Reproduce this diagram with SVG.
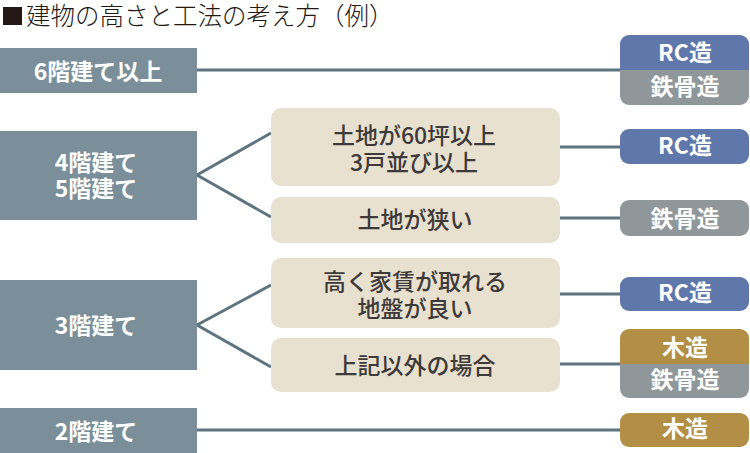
<svg xmlns="http://www.w3.org/2000/svg" width="750" height="453" viewBox="0 0 750 453">
<style>
text{font-family:"Noto Sans CJK JP","Noto Sans",sans-serif;text-anchor:middle}
.l{fill:#7A8F99}
.m{fill:#E8E1CF}
.w{fill:#fff;font-size:23px;font-weight:bold}
.d{fill:#3E3A39;font-size:23px;font-weight:500}
.c{stroke:#5E7580;stroke-width:3;fill:none}
.rc{fill:#6077AC}.st{fill:#8F979B}.wd{fill:#B38F45}
</style>
<rect width="750" height="453" fill="#fff"/>
<g id="title">
<rect x="3" y="7" width="19" height="18" fill="#231815"/>
<text x="26" y="25" style="text-anchor:start;font-size:24.5px;fill:#231815;font-weight:300">建物の高さと工法の考え方（例）</text>
</g>
<g id="connectors">
<line class="c" x1="197" y1="70" x2="622" y2="70"/>
<polyline class="c" points="271,133 197,175 271,217"/>
<line class="c" x1="559" y1="147" x2="622" y2="147"/>
<line class="c" x1="559" y1="218" x2="622" y2="218"/>
<polyline class="c" points="271,285 197,325 271,367"/>
<line class="c" x1="559" y1="294" x2="622" y2="294"/>
<line class="c" x1="559" y1="364" x2="622" y2="364"/>
<line class="c" x1="197" y1="430" x2="622" y2="430"/>
</g>
<g id="n6"><rect class="l" x="0" y="48" width="197" height="45"/><text class="w" x="98" y="80">6階建て以上</text></g>
<g id="n45"><rect class="l" x="0" y="131" width="197" height="89"/><text class="w" x="96" y="171">4階建て</text><text class="w" x="96" y="197">5階建て</text></g>
<g id="n3"><rect class="l" x="0" y="280" width="197" height="90"/><text class="w" x="96" y="334">3階建て</text></g>
<g id="n2"><rect class="l" x="0" y="408" width="197" height="45"/><text class="w" x="96" y="440">2階建て</text></g>
<g id="m1"><rect class="m" x="271" y="108" width="289" height="78" rx="10"/><text class="d" x="414" y="144">土地が60坪以上</text><text class="d" x="414" y="171">3戸並び以上</text></g>
<g id="m2"><rect class="m" x="271" y="197" width="289" height="46" rx="10"/><text class="d" x="415" y="228">土地が狭い</text></g>
<g id="m3"><rect class="m" x="271" y="258" width="289" height="70" rx="10"/><text class="d" x="415" y="290">高く家賃が取れる</text><text class="d" x="415" y="317">地盤が良い</text></g>
<g id="m4"><rect class="m" x="271" y="338" width="289" height="54" rx="10"/><text class="d" x="415" y="374">上記以外の場合</text></g>
<g id="r1">
<path class="st" d="M620,70H749V96a9,9 0 0 1 -9,9H629a9,9 0 0 1 -9,-9Z"/>
<path class="rc" d="M629,35H740a9,9 0 0 1 9,9V70H620V44a9,9 0 0 1 9,-9Z"/>
<text class="w" x="685" y="61">RC造</text><text class="w" x="685" y="95">鉄骨造</text>
</g>
<g id="r2"><rect class="rc" x="620" y="129" width="129" height="35" rx="9"/><text class="w" x="685" y="154">RC造</text></g>
<g id="r3"><rect class="st" x="620" y="200" width="129" height="36" rx="9"/><text class="w" x="685" y="227">鉄骨造</text></g>
<g id="r4"><rect class="rc" x="620" y="277" width="129" height="34" rx="9"/><text class="w" x="685" y="301">RC造</text></g>
<g id="r5">
<path class="st" d="M620,364H749V389a9,9 0 0 1 -9,9H629a9,9 0 0 1 -9,-9Z"/>
<path class="wd" d="M629,329H740a9,9 0 0 1 9,9V364H620V338a9,9 0 0 1 9,-9Z"/>
<text class="w" x="685" y="356">木造</text><text class="w" x="685" y="388">鉄骨造</text>
</g>
<g id="r6"><rect class="wd" x="620" y="413" width="129" height="34" rx="9"/><text class="w" x="685" y="437">木造</text></g>
</svg>
